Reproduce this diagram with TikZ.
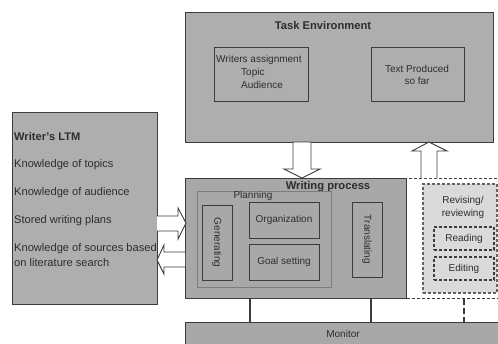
\documentclass[tikz,border=0pt]{standalone}
\usepackage{fontspec}
\setmainfont{Liberation Sans}
\definecolor{boxgray}{RGB}{174,174,174}
\definecolor{wpgray}{RGB}{168,168,168}
\definecolor{revgray}{RGB}{218,218,218}
\definecolor{linegray}{RGB}{60,60,60}
\definecolor{plangray}{RGB}{125,125,125}
\definecolor{txtgray}{RGB}{45,45,45}
\tikzset{
  box/.style={draw=linegray, line width=0.9bp, fill=boxgray, inner sep=0pt, rectangle},
  inbox/.style={draw=linegray, line width=0.9bp, inner sep=0pt, rectangle},
  dbox/.style={draw=linegray, line width=1.4bp, dash pattern=on 3bp off 2bp, inner sep=0pt, rectangle},
  txt/.style={inner sep=0pt, text=txtgray, font=\fontsize{10bp}{12.5bp}\selectfont},
  ltm/.style={inner sep=0pt, anchor=west, text=txtgray, font=\fontsize{11.1bp}{13.5bp}\selectfont},
  ttl/.style={inner sep=0pt, text=txtgray, font=\fontsize{11.2bp}{13bp}\selectfont\bfseries},
  blockarrow/.style={draw=linegray, line width=0.9bp, fill=white},
  link/.style={draw=linegray, line width=1.2bp}
}
\begin{document}
\begin{tikzpicture}[x=1bp,y=-1bp]
\useasboundingbox (0,0) rectangle (498,343);
\clip (0,0) rectangle (498,343);
\fill[white] (0,0) rectangle (498,343);

% Task environment
\node[box, minimum width=308bp, minimum height=130bp] (task) at (339,77) {};
\node[ttl] (tasktitle) at (323,25) {Task Environment};
\node[inbox, minimum width=94bp, minimum height=54bp] (assign) at (261,74) {};
\node[txt, anchor=west] (assign1) at (216,60) {Writers assignment};
\node[txt, anchor=west] (assign2) at (241,72.5) {Topic};
\node[txt, anchor=west] (assign3) at (241,85) {Audience};
\node[inbox, minimum width=93bp, minimum height=54bp] (textprod) at (417.5,74) {};
\node[txt, align=center] (textprodtxt) at (417,75) {Text Produced\\so far};

% Writer's LTM
\node[box, minimum width=145bp, minimum height=192bp] (ltmbox) at (84.5,208) {};
\node[ltm, font=\fontsize{11.1bp}{13.5bp}\selectfont\bfseries] (ltmtitle) at (14,137) {Writer's LTM};
\node[ltm] (k1) at (14,165) {Knowledge of topics};
\node[ltm] (k2) at (14,193) {Knowledge of audience};
\node[ltm] (k3) at (14,221) {Stored writing plans};
\node[ltm] (k4) at (14,249) {Knowledge of sources based};
\node[ltm] (k5) at (14,263) {on literature search};

% Dashed outer region
\node[dbox, fill=white, line width=1.2bp, minimum width=110bp, minimum height=120bp, anchor=north west] (outer) at (406,178) {};

% Writing process
\node[box, fill=wpgray, minimum width=221bp, minimum height=120bp] (writing) at (295.5,238) {};
\node[ttl] (writingtitle) at (328,186.5) {Writing process};
\node[draw=plangray, line width=0.9bp, inner sep=0pt, minimum width=134bp, minimum height=96bp] (planning) at (264,239) {};
\node[txt] (planningtxt) at (253,195.5) {Planning};
\node[inbox, minimum width=30bp, minimum height=75bp] (gen) at (217,242.5) {};
\node[txt, rotate=-90] (gentxt) at (217,242.5) {Generating};
\node[inbox, minimum width=70bp, minimum height=36bp] (org) at (284,220) {};
\node[txt] (orgtxt) at (284,220) {Organization};
\node[inbox, minimum width=70bp, minimum height=36bp] (goal) at (284,262) {};
\node[txt] (goaltxt) at (284,262) {Goal setting};
\node[inbox, minimum width=30bp, minimum height=75bp] (trans) at (367,239.5) {};
\node[txt, rotate=-90] (transtxt) at (367,239.5) {Translating};

% Revising
\node[dbox, fill=revgray, line width=1.1bp, draw=linegray!80, minimum width=74bp, minimum height=109bp] (rev) at (460,238.5) {};
\node[txt, align=center] (revtxt) at (463,207.5) {Revising/\\reviewing};
\node[dbox, minimum width=60bp, minimum height=23bp] (read) at (464,238.5) {};
\node[txt] (readtxt) at (464,238.5) {Reading};
\node[dbox, minimum width=60bp, minimum height=23bp] (edit) at (464,268.5) {};
\node[txt] (edittxt) at (464,268.5) {Editing};

% Monitor
\node[box, fill=wpgray, minimum width=330bp, minimum height=30bp, anchor=north west] (monitor) at (185,322) {};
\node[txt] (monitortxt) at (343,334) {Monitor};

% connectors to monitor
\coordinate (c1) at (250,0);
\coordinate (c2) at (371,0);
\coordinate (c3) at (464,0);
\draw[link] (c1 |- writing.south) -- (c1 |- monitor.north);
\draw[link] (c2 |- writing.south) -- (c2 |- monitor.north);
\draw[draw=linegray, line width=2.4bp, dash pattern=on 6bp off 3bp] (c3 |- outer.south) -- (c3 |- monitor.north);

% block arrows
\draw[blockarrow] (293,142) -- (311,142) -- (311,169) -- (320,169) -- (302,178) -- (284,169) -- (293,169) -- cycle;
\draw[blockarrow] (421,178) -- (421,151) -- (412,151) -- (429,142) -- (447,151) -- (437,151) -- (437,178);
\draw[blockarrow] (157,216) -- (178,216) -- (178,208) -- (186,223) -- (178,239) -- (178,231) -- (157,231);
\draw[blockarrow] (185,252) -- (164,252) -- (164,245) -- (157,260) -- (164,274) -- (164,267) -- (185,267);
\end{tikzpicture}
\end{document}
